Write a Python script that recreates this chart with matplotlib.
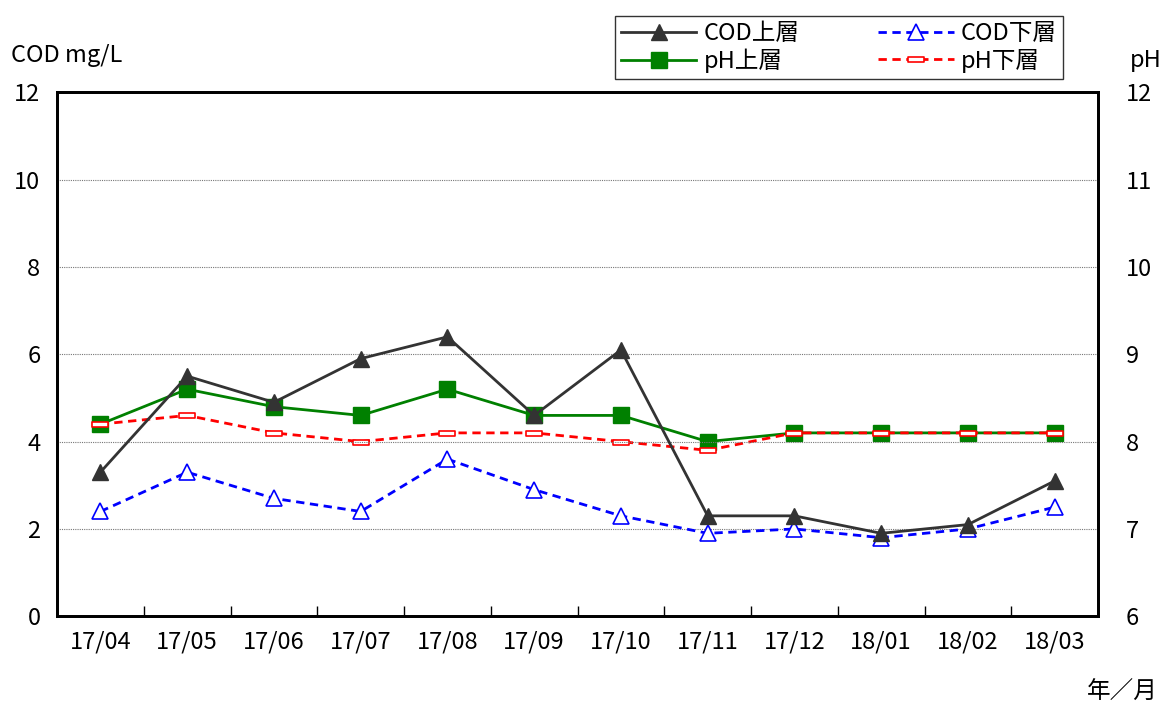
import matplotlib.pyplot as plt
from matplotlib.path import Path

plt.rcParams['font.family'] = ['Noto Sans CJK JP', 'DejaVu Sans']

months = ['17/04', '17/05', '17/06', '17/07', '17/08', '17/09',
          '17/10', '17/11', '17/12', '18/01', '18/02', '18/03']
cod_upper = [3.3, 5.5, 4.9, 5.9, 6.4, 4.6, 6.1, 2.3, 2.3, 1.9, 2.1, 3.1]
cod_lower = [2.4, 3.3, 2.7, 2.4, 3.6, 2.9, 2.3, 1.9, 2.0, 1.8, 2.0, 2.5]
ph_upper = [8.2, 8.6, 8.4, 8.3, 8.6, 8.3, 8.3, 8.0, 8.1, 8.1, 8.1, 8.1]
ph_lower = [8.2, 8.3, 8.1, 8.0, 8.1, 8.1, 8.0, 7.9, 8.1, 8.1, 8.1, 8.1]

x = list(range(len(months)))
fs = 17

fig = plt.figure(figsize=(11.69, 7.10), dpi=100)
ax = fig.add_axes([0.0488, 0.132, 0.8905, 0.738])
ax2 = ax.twinx()

# flat rectangle marker for pH lower
rect = Path([(-1, -0.3), (1, -0.3), (1, 0.3), (-1, 0.3), (-1, -0.3)],
            [Path.MOVETO, Path.LINETO, Path.LINETO, Path.LINETO, Path.CLOSEPOLY])

l1, = ax.plot(x, cod_upper, color='#333333', lw=2, marker='^', ms=11,
              mfc='#333333', mec='#333333', label='COD上層', zorder=5)
l2, = ax.plot(x, cod_lower, color='#0000ff', lw=2, ls=(0, (3, 2)), marker='^', ms=11,
              mfc='white', mec='#0000ff', mew=1.2, label='COD下層', zorder=4)
l3, = ax2.plot(x, ph_upper, color='#008000', lw=2, marker='s', ms=11,
               mfc='#008000', mec='#008000', label='pH上層', zorder=3)
l4, = ax2.plot(x, ph_lower, color='#ff0000', lw=2, ls=(0, (3, 2)), marker=rect, ms=12,
               mfc='white', mec='#ff0000', mew=1.2, label='pH下層', zorder=4)

ax.set_zorder(ax2.get_zorder() + 1)
ax.patch.set_visible(False)

ax.set_xlim(-0.5, len(months) - 0.5)
ax.set_ylim(0, 12)
ax2.set_ylim(6, 12)
ax.set_yticks(range(0, 13, 2))
ax2.set_yticks(range(6, 13))
ax.yaxis.grid(True, color='#777777', ls=(0, (1, 1)), lw=0.8)

ax.set_xticks(x)
ax.set_xticklabels(months)
ax.set_xticks([i + 0.5 for i in x[:-1]], minor=True)
ax.tick_params(axis='x', which='major', length=0, pad=10, labelsize=fs)
ax.tick_params(axis='x', which='minor', length=7, direction='in', width=1)
ax.tick_params(axis='y', length=0, pad=12, labelsize=fs)
ax2.tick_params(axis='y', length=0, pad=20, labelsize=fs)

for a in (ax, ax2):
    for s in a.spines.values():
        s.set_linewidth(2)

fig.text(0.009, 0.922, 'COD mg/L', fontsize=fs, ha='left', va='center')
fig.text(0.980, 0.915, 'pH', fontsize=fs, ha='center', va='center')
fig.text(0.990, 0.025, '年／月', fontsize=fs, ha='right', va='center')

leg = fig.legend(handles=[l1, l3, l2, l4], ncol=2, loc='lower left',
                 bbox_to_anchor=(615 / 1169, 1 - 79 / 710, 448 / 1169, 72 / 710),
                 mode='expand', fontsize=fs, frameon=True,
                 fancybox=False, edgecolor='black', handlelength=3.2,
                 handletextpad=0.3, borderpad=0.25, labelspacing=0.15,
                 borderaxespad=0)
leg.get_frame().set_linewidth(1)

fig.savefig('out.png', dpi=100)
